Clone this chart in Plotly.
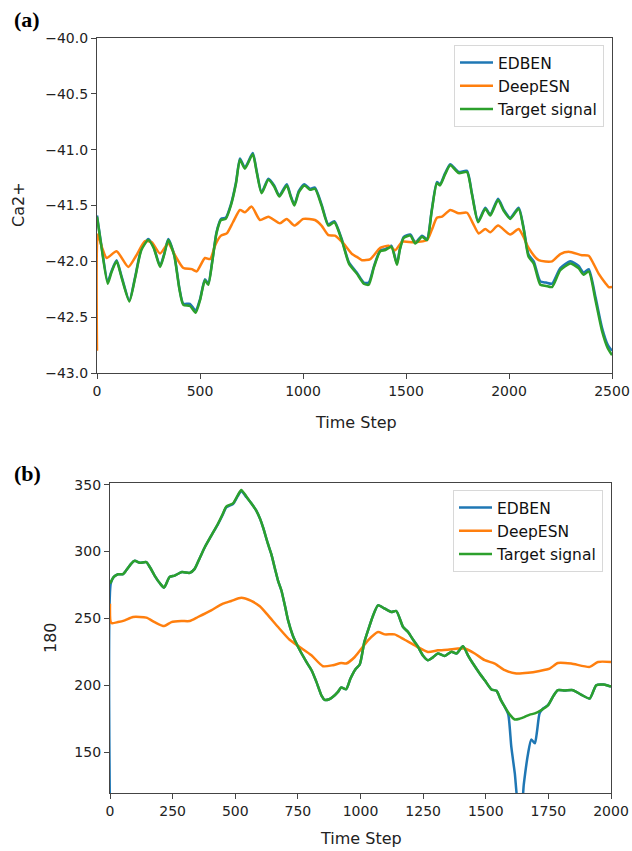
import plotly.graph_objects as go

# ---- Panel (a): Ca2+ ----
a_target_t = [0, 20, 52, 70, 95, 120, 157, 185, 215, 249, 275, 306, 325, 346, 375, 400, 419, 451, 479, 500,
              524, 540, 560, 580, 602, 625, 650, 675, 694, 718, 756, 775, 799, 832, 860, 885, 921, 940, 958, 980,
              1007, 1034, 1058, 1090, 1123, 1152, 1188, 1223, 1261, 1295, 1319, 1345, 1375, 1400, 1429, 1456, 1470,
              1489, 1521, 1545, 1578, 1602, 1625, 1650, 1665, 1690, 1715, 1756, 1796, 1820, 1850, 1885, 1909, 1947,
              1975, 2006, 2047, 2070, 2095, 2120, 2152, 2180, 2209, 2249, 2298, 2337, 2362, 2387, 2420, 2451, 2480, 2500]
a_target_v = [-41.60, -41.85, -42.20, -42.10, -42.00, -42.15, -42.36, -42.15, -41.90, -41.81, -41.88, -42.05, -41.95,
              -41.81, -41.95, -42.25, -42.39, -42.40, -42.46, -42.35, -42.17, -42.21, -42.00, -41.75, -41.63, -41.62,
              -41.50, -41.30, -41.09, -41.17, -41.04, -41.20, -41.39, -41.27, -41.33, -41.42, -41.32, -41.42, -41.50,
              -41.38, -41.32, -41.36, -41.35, -41.50, -41.68, -41.65, -41.81, -42.02, -42.11, -42.20, -42.21, -42.05,
              -41.91, -41.90, -41.87, -42.03, -41.90, -41.79, -41.77, -41.84, -41.78, -41.81, -41.55, -41.30, -41.32,
              -41.22, -41.14, -41.21, -41.20, -41.40, -41.65, -41.53, -41.59, -41.45, -41.55, -41.62, -41.53, -41.70,
              -41.96, -42.02, -42.21, -42.22, -42.23, -42.08, -42.02, -42.06, -42.12, -42.09, -42.35, -42.62, -42.78,
              -42.84]
a_edben_v = [-41.59, -41.84, -42.18, -42.09, -41.99, -42.14, -42.35, -42.14, -41.89, -41.80, -41.87, -42.04, -41.94,
             -41.80, -41.94, -42.24, -42.38, -42.38, -42.44, -42.34, -42.16, -42.20, -41.99, -41.74, -41.62, -41.61,
             -41.49, -41.29, -41.08, -41.16, -41.03, -41.19, -41.38, -41.26, -41.32, -41.41, -41.31, -41.41, -41.49,
             -41.37, -41.31, -41.35, -41.34, -41.49, -41.67, -41.64, -41.80, -42.01, -42.10, -42.19, -42.19, -42.04,
             -41.90, -41.89, -41.86, -42.02, -41.89, -41.78, -41.76, -41.83, -41.77, -41.80, -41.54, -41.29, -41.31,
             -41.21, -41.13, -41.20, -41.19, -41.39, -41.64, -41.52, -41.58, -41.44, -41.54, -41.61, -41.52, -41.69,
             -41.94, -42.00, -42.18, -42.19, -42.20, -42.06, -42.00, -42.04, -42.10, -42.07, -42.32, -42.59, -42.75,
             -42.80]
a_deep_t = [0, 4, 25, 47, 95, 152, 190, 233, 266, 306, 346, 380, 419, 460, 484, 524, 549, 575, 602, 630, 660, 694,
            718, 751, 791, 832, 888, 921, 958, 1002, 1058, 1090, 1123, 1155, 1196, 1238, 1261, 1286, 1327, 1375, 1416,
            1448, 1481, 1537, 1602, 1625, 1650, 1675, 1715, 1756, 1796, 1825, 1853, 1885, 1909, 1947, 2006, 2047, 2070,
            2095, 2144, 2209, 2249, 2290, 2354, 2387, 2410, 2435, 2470, 2484, 2500]
a_deep_v = [-42.80, -41.76, -41.88, -41.97, -41.91, -42.05, -41.95, -41.82, -41.83, -41.93, -41.84, -41.95, -42.06,
            -42.07, -42.09, -41.97, -41.98, -41.85, -41.77, -41.75, -41.65, -41.54, -41.56, -41.51, -41.63, -41.60,
            -41.66, -41.62, -41.68, -41.62, -41.63, -41.68, -41.765, -41.77, -41.84, -41.935, -41.96, -41.99, -41.98,
            -41.88, -41.86, -41.90, -41.825, -41.83, -41.81, -41.72, -41.61, -41.60, -41.54, -41.57, -41.565, -41.66,
            -41.75, -41.71, -41.74, -41.68, -41.76, -41.71, -41.78, -41.88, -41.99, -42.00, -41.935, -41.915, -41.945,
            -41.95, -42.02, -42.11, -42.20, -42.23, -42.23]

# ---- Panel (b): 18O ----
b_target_t = [0, 15, 32, 52, 65, 85, 99, 119, 145, 160, 178, 200, 216, 238, 258, 287, 318, 338, 358, 378, 405, 431,
              450, 464, 491, 510, 524, 545, 564, 584, 600, 611, 630, 644, 660, 671, 684, 700, 711, 730, 751, 784, 805,
              824, 845, 857, 875, 890, 910, 923, 943, 960, 980, 997, 1015, 1030, 1050, 1070, 1097, 1123, 1143, 1170,
              1190, 1210, 1230, 1250, 1269, 1290, 1309, 1336, 1363, 1383, 1409, 1430, 1449, 1475, 1496, 1523, 1543,
              1560, 1576, 1596, 1616, 1636, 1656, 1676, 1696, 1722, 1749, 1770, 1788, 1815, 1848, 1880, 1915, 1941,
              1970, 1995, 2000]
b_target_v = [276, 281, 283, 283, 286, 291, 293, 291.5, 292, 288, 282, 276, 273, 281, 282, 284.6, 284, 287, 295, 303,
              312, 320.7, 328, 333.6, 336, 342, 346, 341, 336, 330.6, 324, 318, 306, 298, 286, 278, 271, 258, 248.5,
              237, 228.6, 217.4, 211, 202.5, 192, 189, 189.5, 191.3, 195, 198.3, 197, 205, 212, 215.5, 232, 241, 252,
              259.7, 257.2, 254.7, 255.5, 243.5, 239.8, 234, 228.6, 222, 218.7, 221, 223.7, 221.8, 225, 223.7, 229.1,
              222, 216.2, 209, 203.7, 196.8, 195.8, 189, 183.8, 178, 174.4, 175, 176.4, 178, 178.9, 181.4, 185.1, 192,
              196.3, 196, 196.3, 193, 190.1, 200, 200.5, 199.3, 199.3]
b_edben_t = [0, 3, 15, 32, 52, 65, 85, 99, 119, 145, 160, 178, 200, 216, 238, 258, 287, 318, 338, 358, 378, 405, 431,
             450, 464, 491, 510, 524, 545, 564, 584, 600, 611, 630, 644, 660, 671, 684, 700, 711, 730, 751, 784, 805,
             824, 845, 857, 875, 890, 910, 923, 943, 960, 980, 997, 1015, 1030, 1050, 1070, 1097, 1123, 1143, 1170,
             1190, 1210, 1230, 1250, 1269, 1290, 1309, 1336, 1363, 1383, 1409, 1430, 1449, 1475, 1496, 1523, 1543,
             1560, 1576, 1590, 1602, 1616, 1630, 1642, 1652, 1669, 1682, 1696, 1705, 1715, 1729, 1749, 1770, 1788,
             1815, 1848, 1880, 1915, 1941, 1970, 1995, 2000]
b_edben_v = [100, 276, 281, 283, 283, 286, 291, 293, 291.5, 292, 288, 282, 276, 273, 281, 282, 284.6, 284, 287, 295,
             303, 312, 320.5, 327.5, 333, 335.5, 341.5, 345, 340.5, 336, 330.6, 324, 318, 306, 298, 286, 278, 271, 258,
             248.5, 237, 228.6, 217.4, 211, 202.5, 192, 189, 189.5, 191.3, 195, 198.3, 197, 205, 212, 215.5, 232, 241,
             252, 259.7, 257.2, 254.7, 255.5, 243.5, 239.8, 234, 228.6, 222, 218.7, 221, 223.7, 221.8, 225, 223.7,
             229.1, 222, 216.2, 209, 203.7, 196.8, 195.8, 189, 183.8, 178, 154, 134, 110, 108, 126, 149, 159.5, 156.5,
             166, 179, 182.6, 185.1, 192, 196.3, 196, 196.3, 193, 190.1, 200, 200.5, 199.3, 199.3]
b_deep_t = [0, 5, 32, 59, 92, 145, 178, 216, 245, 285, 318, 351, 404, 451, 484, 524, 564, 598, 631, 671, 717, 757,
            804, 850, 890, 923, 943, 977, 1030, 1070, 1097, 1136, 1176, 1223, 1269, 1309, 1349, 1389, 1416, 1456, 1496,
            1536, 1576, 1622, 1669, 1715, 1755, 1788, 1841, 1915, 1948, 2000]
b_deep_v = [261, 246.5, 247.2, 248.5, 251, 250.5, 247.2, 244.2, 247.2, 248, 248, 251, 256, 261, 263, 265.4, 263, 259,
            252.2, 243.5, 234, 228.6, 222.4, 214.2, 215, 216.6, 216.2, 221.1, 233.6, 239.8, 238, 238, 234, 229.1,
            224.9, 226.1, 226.6, 227.4, 227.4, 223.7, 218.7, 216.2, 211.2, 208.8, 209.3, 210.7, 212.4, 216.6, 216.2,
            213.7, 217.4, 217.4]

a_xticks = [0, 500, 1000, 1500, 2000, 2500]
a_yticks = [-43.0, -42.5, -42.0, -41.5, -41.0, -40.5, -40.0]
b_xticks = [0, 250, 500, 750, 1000, 1250, 1500, 1750, 2000]
b_yticks = [150, 200, 250, 300, 350]

names = ["EDBEN", "DeepESN", "Target signal"]
colors = ["#1f77b4", "#ff7f0e", "#2ca02c"]

W, H = 632, 851
FONT = "DejaVu Sans"


def px_x(p):
    return p / W


def px_y(p):
    return 1 - p / H


fig = go.Figure()

line_style = dict(width=2.5, shape="spline", smoothing=0.6)

series_a = [(a_target_t, a_edben_v), (a_deep_t, a_deep_v), (a_target_t, a_target_v)]
series_b = [(b_edben_t, b_edben_v), (b_deep_t, b_deep_v), (b_target_t, b_target_v)]

for (t, v), name, c in zip(series_a, names, colors):
    fig.add_trace(go.Scatter(x=t, y=v, mode="lines", name=name, line=dict(color=c, **line_style),
                             xaxis="x", yaxis="y", legend="legend"))
for (t, v), name, c in zip(series_b, names, colors):
    fig.add_trace(go.Scatter(x=t, y=v, mode="lines", name=name, line=dict(color=c, **line_style),
                             xaxis="x2", yaxis="y2", legend="legend2"))

axis_common = dict(showline=True, mirror=True, linecolor="#444", linewidth=1.2, ticks="outside", ticklen=5,
                   tickwidth=1.2, tickcolor="#444", showgrid=False, zeroline=False, automargin=False,
                   tickfont=dict(family=FONT, size=14, color="#222"))

legend_common = dict(bgcolor="rgba(255,255,255,0.9)", bordercolor="#d8d8d8", borderwidth=1,
                     font=dict(family=FONT, size=15.5, color="#111"), xanchor="right", yanchor="top",
                     tracegroupgap=0, itemwidth=33, entrywidth=140, entrywidthmode="pixels")

fig.update_layout(
    width=W, height=H,
    margin=dict(l=0, r=0, t=0, b=0, autoexpand=False),
    paper_bgcolor="white", plot_bgcolor="white",
    xaxis=dict(domain=[px_x(97), px_x(612)], range=[0, 2500], tickvals=a_xticks, anchor="y", **axis_common),
    yaxis=dict(domain=[px_y(373), px_y(38)], range=[-43, -40], tickvals=a_yticks, tickformat=".1f",
               anchor="x", **axis_common),
    xaxis2=dict(domain=[px_x(110), px_x(611)], range=[0, 2000], tickvals=b_xticks, anchor="y2", **axis_common),
    yaxis2=dict(domain=[px_y(793), px_y(483)], range=[119.4, 351.2], tickvals=b_yticks, anchor="x2",
                **axis_common),
    legend=dict(x=px_x(604), y=px_y(45), **legend_common),
    legend2=dict(x=px_x(603), y=px_y(490), **legend_common),
    showlegend=True,
)

title_font = dict(family=FONT, size=16, color="#222")
panel_font = dict(family="Liberation Serif", size=22, color="#000")

annotations = [
    dict(text="Time Step", x=px_x(356), y=px_y(422), font=title_font),
    dict(text="Ca2+", x=px_x(18), y=px_y(205), textangle=-90, font=title_font),
    dict(text="Time Step", x=px_x(361), y=px_y(838), font=title_font),
    dict(text="180", x=px_x(50), y=px_y(638), textangle=-90, font=title_font),
    dict(text="<b>(a)</b>", x=px_x(27), y=px_y(20), font=panel_font),
    dict(text="<b>(b)</b>", x=px_x(27.5), y=px_y(473), font=panel_font),
]
for a in annotations:
    fig.add_annotation(xref="paper", yref="paper", showarrow=False, xanchor="center", yanchor="middle", **a)

fig.write_html("out.html")
